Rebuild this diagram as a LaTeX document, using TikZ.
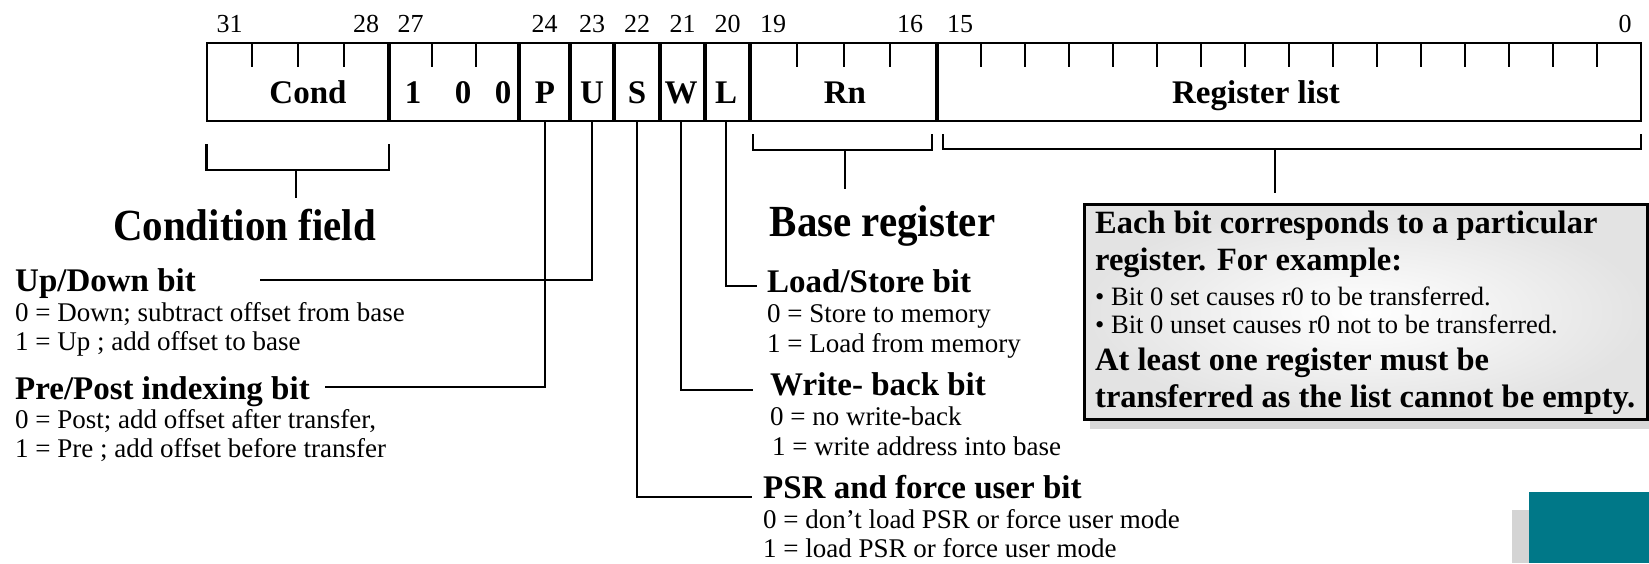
\documentclass[tikz,border=0pt]{standalone}
\usepackage{fontspec}
\setmainfont{Liberation Serif}
\newfontfamily\widehead[FakeStretch=0.92]{Liberation Serif}
\usepackage{tikz}
\usetikzlibrary{positioning,shadows}
\definecolor{tealblock}{RGB}{0,120,136}
\definecolor{greyblock}{RGB}{212,212,212}

\begin{document}
\begin{tikzpicture}[x=1pt, y=-1pt,
  regbox/.style={draw, line width=2.5pt, minimum width=1434pt, minimum height=78pt, inner sep=0pt},
  divider/.style={line width=4pt},
  tick/.style={line width=2pt},
  bitnum/.style={anchor=base, inner sep=0pt, font=\fontsize{26}{28}\selectfont},
  field/.style={anchor=base, inner sep=0pt, font=\fontsize{33}{36}\selectfont\bfseries},
  title/.style={anchor=base, inner sep=0pt, font=\widehead\bfseries\fontsize{44.5}{48}\selectfont},
  head/.style={anchor=base west, inner sep=0pt, font=\fontsize{33}{36}\selectfont\bfseries},
  desc/.style={anchor=base west, inner sep=0pt, font=\fontsize{27}{30}\selectfont},
  brace/.style={line width=2.5pt},
  conn/.style={line width=2.5pt},
  notebox/.style={draw, line width=3pt, inner color=white, outer color=black!11,
                  drop shadow={shadow xshift=5pt, shadow yshift=-9pt, fill=black!30},
                  minimum width=563pt, minimum height=215pt, anchor=north west},
  notebold/.style={anchor=base west, inner sep=0pt, font=\fontsize{32.5}{36}\selectfont\bfseries},
  notetext/.style={anchor=base west, inner sep=0pt, font=\fontsize{26.5}{29}\selectfont}
]
  \useasboundingbox (0,0) rectangle (1649,563);

  % instruction word
  \node[regbox] (word) at (923.85,82) {};
  \foreach \x in {389,519,570,614,660,705,750,937}
    \draw[divider] (\x,43) -- (\x,121);
  \foreach \x in {252.3,297.9,343.5,432.3,475.7,796.75,843.5,890.25}
    \draw[tick] (\x,43) -- (\x,67);
  \foreach \k in {1,...,15}
    \draw[tick] ({937+44*\k},43) -- ({937+44*\k},67);

  % bit numbers
  \foreach \n/\x in {31/229.5,28/366,27/410.5,24/544.5,23/592,22/637,21/682.5,20/727.5,19/773,16/910,15/960,0/1625}
    \node[bitnum] (b\n) at (\x,32) {\n};

  % field labels
  \node[field] (fCond) at (308,103) {Cond};
  \node[field] (fOne) at (413,103) {1};
  \node[field] (fZeroA) at (463,103) {0};
  \node[field] (fZeroB) at (503,103) {0};
  \node[field] (fP) at (545,103) {P};
  \node[field] (fU) at (592,103) {U};
  \node[field] (fS) at (637,103) {S};
  \node[field] (fW) at (681,103) {W};
  \node[field] (fL) at (726,103) {L};
  \node[field] (fRn) at (845,103) {Rn};
  \node[field] (fReg) at (1256,103) {Register list};

  % brackets
  \draw[brace] (206.7,144) |- (389,170) -- (389,144);
  \draw[brace] (296,170) -- (296,198);
  \draw[brace] (753,134) |- (932,150) -- (932,134);
  \draw[brace] (845,150) -- (845,189);
  \draw[brace] (943,134) |- (1641,149) -- (1641,134);
  \draw[brace] (1275,149) -- (1275,193);

  \node[title] (condTitle) at (244.5,240) {Condition field};
  \node[title] (baseTitle) at (882.5,236) {Base register};

  % left side bits
  \coordinate (udEnd) at (260,280);
  \draw[conn] (fU |- word.south) |- (udEnd);
  \node[head] (udHead) at (15,291) {Up/Down bit};
  \node[desc] (ud0) at (15,321) {0 = Down; subtract offset from base};
  \node[desc] (ud1) at (15,350) {1 = Up ; add offset to base};

  \coordinate (ppEnd) at (325,387);
  \draw[conn] (fP |- word.south) |- (ppEnd);
  \node[head] (ppHead) at (15,399) {Pre/Post indexing bit};
  \node[desc] (pp0) at (15,428) {0 = Post; add offset after transfer,};
  \node[desc] (pp1) at (15,457) {1 = Pre ; add offset before transfer};

  % right side bits
  \coordinate (lsEnd) at (757,286);
  \draw[conn] (fL |- word.south) |- (lsEnd);
  \node[head] (lsHead) at (767,292) {Load/Store bit};
  \node[desc] (ls0) at (767,322) {0 = Store to memory};
  \node[desc] (ls1) at (767,352) {1 = Load from memory};

  \coordinate (wbEnd) at (753,390);
  \draw[conn] (fW |- word.south) |- (wbEnd);
  \node[head] (wbHead) at (770,395) {Write- back bit};
  \node[desc] (wb0) at (770,425) {0 = no write-back};
  \node[desc] (wb1) at (772,455) {1 = write address into base};

  \coordinate (psrEnd) at (752,497);
  \draw[conn] (fS |- word.south) |- (psrEnd);
  \node[head] (psrHead) at (763,498) {PSR and force user bit};
  \node[desc] (psr0) at (763,528) {0 = don’t load PSR or force user mode};
  \node[desc] (psr1) at (763,557) {1 = load PSR or force user mode};

  % register list note
  \node[notebox] (note) at (1083,203) {};
  \node[notebold] (nt1) at (1095,233) {Each bit corresponds to a particular};
  \node[notebold] (nt2) at (1095,270) {register. For example:};
  \node[notetext] (nt3) at (1095,305) {• Bit 0 set causes r0 to be transferred.};
  \node[notetext] (nt4) at (1095,333) {• Bit 0 unset causes r0 not to be transferred.};
  \node[notebold] (nt5) at (1095,370) {At least one register must be};
  \node[notebold] (nt6) at (1095,407) {transferred as the list cannot be empty.};

  \fill[greyblock] (1512,510) rectangle (1529,563);
  \fill[tealblock] (1529,492) rectangle (1649,563);
\end{tikzpicture}
\end{document}
